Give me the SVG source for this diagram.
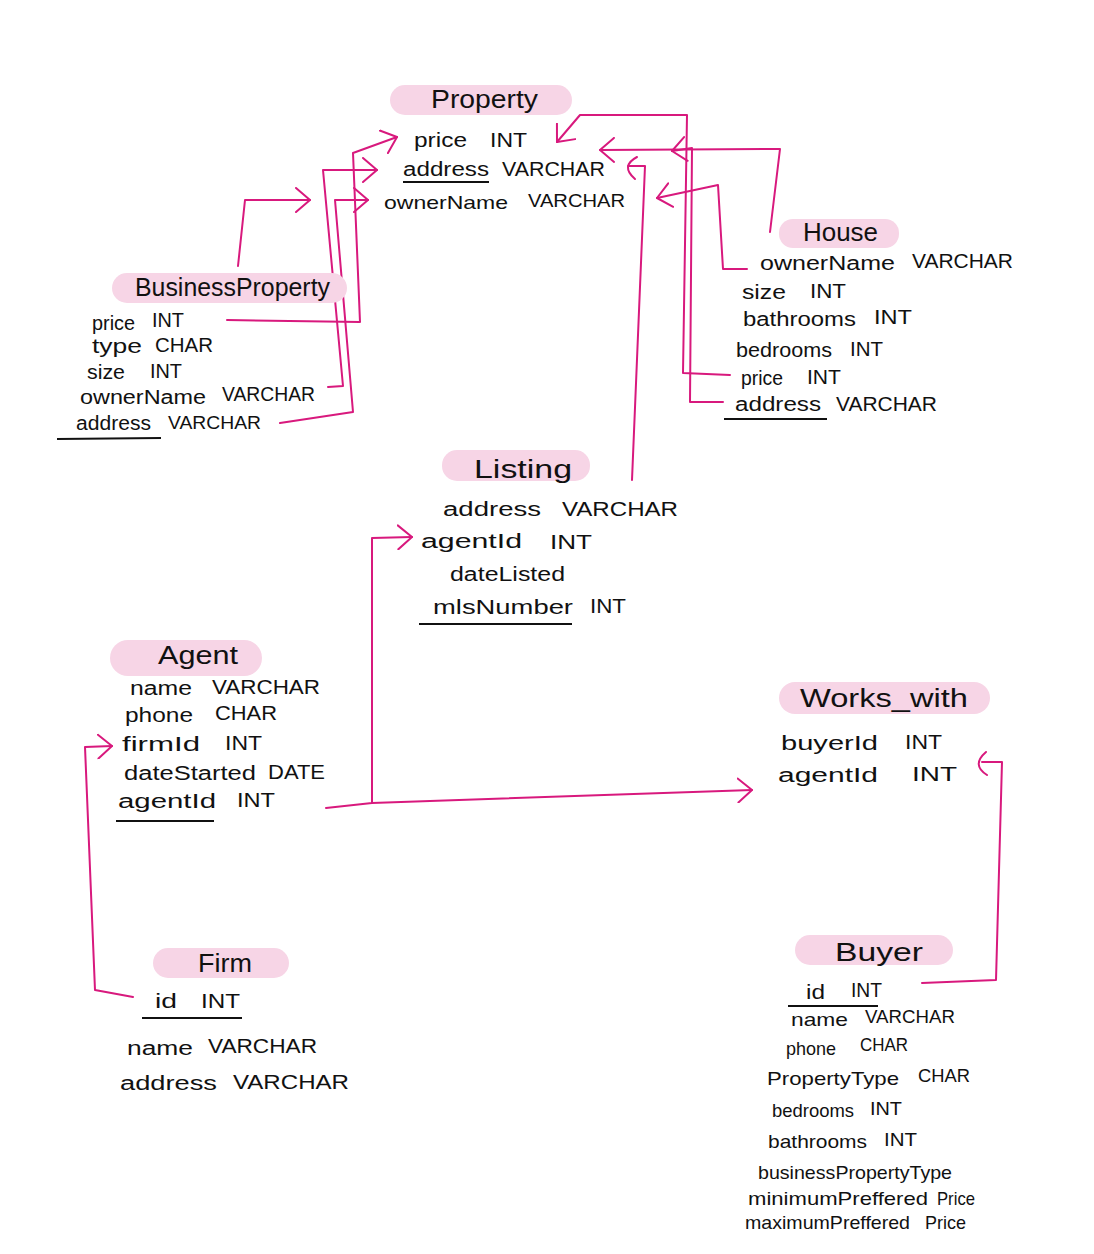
<svg xmlns="http://www.w3.org/2000/svg" width="1094" height="1254" viewBox="0 0 1094 1254">
<style>
.t{font-family:"Liberation Sans","Open Sans",Arial,sans-serif;font-size:20px;fill:#111}
.s{font-size:18.5px}
.h{font-size:25px}
.pill{fill:#f7d5e6}
.u{stroke:#111;stroke-width:2.2;fill:none}
.c{stroke:#d8197d;stroke-width:2;fill:none;stroke-linejoin:round;stroke-linecap:round}
</style>
<defs>
<marker id="ar" viewBox="0 0 16 26" refX="15" refY="13" markerWidth="16" markerHeight="26" markerUnits="userSpaceOnUse" orient="auto">
<path d="M1,1 L15,13 L1,25" fill="none" stroke="#d8197d" stroke-width="2" stroke-linecap="round" stroke-linejoin="round"/>
</marker>
</defs>
<rect width="1094" height="1254" fill="#fff"/>

<g id="connectors">
<path class="c" d="M238,266 L245,200 L310,200" marker-end="url(#ar)"/>
<path class="c" d="M227,320 L360,322 L353,153 L397,137" marker-end="url(#ar)"/>
<path class="c" d="M328,387 L343,386 L323,170 L377,170" marker-end="url(#ar)"/>
<path class="c" d="M280,423 L353,412 L335,200 L368,200" marker-end="url(#ar)"/>
<path class="c" d="M770,232 L780,149 L600,150" marker-end="url(#ar)"/>
<path class="c" d="M730,375 L683,373 L687,115 L580,115 L557,142" marker-end="url(#ar)"/>
<path class="c" d="M723,402 L690,402 L692,148 L672,151" marker-end="url(#ar)"/>
<path class="c" d="M747,269 L723,269 L718,185 L657,198" marker-end="url(#ar)"/>
<path class="c" d="M632,480 L645,166 L628,166"/>
<path class="c" d="M637,157 Q620,166 635,179"/>
<path class="c" d="M133,997 L95,990 L85,747 L112,746" marker-end="url(#ar)"/>
<path class="c" d="M326,808 L372,803 L372,538 L412,537" marker-end="url(#ar)"/>
<path class="c" d="M372,803 L752,790" marker-end="url(#ar)"/>
<path class="c" d="M922,983 L996,980 L1002,762 L982,762"/>
<path class="c" d="M986,752 Q971,765 987,775"/>
</g>

<g id="property">
<rect class="pill" x="390" y="85" width="182" height="30" rx="15"/>
<text class="t h" x="431" y="108" textLength="107" lengthAdjust="spacingAndGlyphs">Property</text>
<text class="t" x="414" y="147" textLength="53" lengthAdjust="spacingAndGlyphs">price</text>
<text class="t" x="490" y="147" textLength="37" lengthAdjust="spacingAndGlyphs">INT</text>
<text class="t" x="403" y="176" textLength="86" lengthAdjust="spacingAndGlyphs">address</text>
<text class="t" x="502" y="176" textLength="103" lengthAdjust="spacingAndGlyphs">VARCHAR</text>
<line class="u" x1="403" y1="182" x2="489" y2="182"/>
<text class="t s" x="384" y="209" textLength="124" lengthAdjust="spacingAndGlyphs">ownerName</text>
<text class="t s" x="528" y="207" textLength="97" lengthAdjust="spacingAndGlyphs">VARCHAR</text>
</g>

<g id="house">
<rect class="pill" x="779" y="219" width="120" height="29" rx="14"/>
<text class="t h" x="803" y="241" textLength="75" lengthAdjust="spacingAndGlyphs">House</text>
<text class="t" x="760" y="270" textLength="135" lengthAdjust="spacingAndGlyphs">ownerName</text>
<text class="t" x="912" y="268" textLength="101" lengthAdjust="spacingAndGlyphs">VARCHAR</text>
<text class="t" x="742" y="299" textLength="44" lengthAdjust="spacingAndGlyphs">size</text>
<text class="t" x="810" y="298" textLength="36" lengthAdjust="spacingAndGlyphs">INT</text>
<text class="t" x="743" y="326" textLength="113" lengthAdjust="spacingAndGlyphs">bathrooms</text>
<text class="t" x="874" y="324" textLength="38" lengthAdjust="spacingAndGlyphs">INT</text>
<text class="t" x="736" y="357" textLength="96" lengthAdjust="spacingAndGlyphs">bedrooms</text>
<text class="t" x="850" y="356" textLength="33" lengthAdjust="spacingAndGlyphs">INT</text>
<text class="t" x="741" y="385" textLength="42" lengthAdjust="spacingAndGlyphs">price</text>
<text class="t" x="807" y="384" textLength="34" lengthAdjust="spacingAndGlyphs">INT</text>
<text class="t" x="735" y="411" textLength="86" lengthAdjust="spacingAndGlyphs">address</text>
<text class="t" x="836" y="411" textLength="101" lengthAdjust="spacingAndGlyphs">VARCHAR</text>
<line class="u" x1="724" y1="419" x2="827" y2="419"/>
</g>

<g id="business-property">
<rect class="pill" x="112" y="273" width="235" height="30" rx="15"/>
<text class="t h" x="135" y="296" textLength="195" lengthAdjust="spacingAndGlyphs">BusinessProperty</text>
<text class="t" x="92" y="330" textLength="43" lengthAdjust="spacingAndGlyphs">price</text>
<text class="t" x="152" y="327" textLength="32" lengthAdjust="spacingAndGlyphs">INT</text>
<text class="t" x="92" y="353" textLength="50" lengthAdjust="spacingAndGlyphs">type</text>
<text class="t" x="155" y="352" textLength="58" lengthAdjust="spacingAndGlyphs">CHAR</text>
<text class="t" x="87" y="379" textLength="38" lengthAdjust="spacingAndGlyphs">size</text>
<text class="t" x="150" y="378" textLength="32" lengthAdjust="spacingAndGlyphs">INT</text>
<text class="t" x="80" y="404" textLength="126" lengthAdjust="spacingAndGlyphs">ownerName</text>
<text class="t" x="222" y="401" textLength="93" lengthAdjust="spacingAndGlyphs">VARCHAR</text>
<text class="t" x="76" y="430" textLength="75" lengthAdjust="spacingAndGlyphs">address</text>
<text class="t s" x="168" y="429" textLength="93" lengthAdjust="spacingAndGlyphs">VARCHAR</text>
<line class="u" x1="57" y1="439" x2="161" y2="438"/>
</g>

<g id="listing">
<rect class="pill" x="442" y="450" width="148" height="31" rx="15"/>
<text class="t h" x="474" y="478" textLength="98" lengthAdjust="spacingAndGlyphs">Listing</text>
<text class="t" x="443" y="516" textLength="98" lengthAdjust="spacingAndGlyphs">address</text>
<text class="t" x="562" y="516" textLength="116" lengthAdjust="spacingAndGlyphs">VARCHAR</text>
<text class="t" x="421" y="548" textLength="101" lengthAdjust="spacingAndGlyphs">agentId</text>
<text class="t" x="550" y="549" textLength="42" lengthAdjust="spacingAndGlyphs">INT</text>
<text class="t" x="450" y="581" textLength="115" lengthAdjust="spacingAndGlyphs">dateListed</text>
<text class="t" x="433" y="614" textLength="140" lengthAdjust="spacingAndGlyphs">mlsNumber</text>
<text class="t" x="590" y="613" textLength="36" lengthAdjust="spacingAndGlyphs">INT</text>
<line class="u" x1="419" y1="624" x2="572" y2="624"/>
</g>

<g id="agent">
<rect class="pill" x="110" y="640" width="152" height="36" rx="18"/>
<text class="t h" x="158" y="664" textLength="80" lengthAdjust="spacingAndGlyphs">Agent</text>
<text class="t" x="130" y="695" textLength="62" lengthAdjust="spacingAndGlyphs">name</text>
<text class="t" x="212" y="694" textLength="108" lengthAdjust="spacingAndGlyphs">VARCHAR</text>
<text class="t" x="125" y="722" textLength="68" lengthAdjust="spacingAndGlyphs">phone</text>
<text class="t" x="215" y="720" textLength="62" lengthAdjust="spacingAndGlyphs">CHAR</text>
<text class="t" x="122" y="751" textLength="78" lengthAdjust="spacingAndGlyphs">firmId</text>
<text class="t" x="225" y="750" textLength="37" lengthAdjust="spacingAndGlyphs">INT</text>
<text class="t" x="124" y="780" textLength="132" lengthAdjust="spacingAndGlyphs">dateStarted</text>
<text class="t" x="268" y="779" textLength="57" lengthAdjust="spacingAndGlyphs">DATE</text>
<text class="t" x="118" y="808" textLength="98" lengthAdjust="spacingAndGlyphs">agentId</text>
<text class="t" x="237" y="807" textLength="38" lengthAdjust="spacingAndGlyphs">INT</text>
<line class="u" x1="116" y1="821" x2="214" y2="821"/>
</g>

<g id="works-with">
<rect class="pill" x="779" y="682" width="211" height="32" rx="16"/>
<text class="t h" x="800" y="707" textLength="168" lengthAdjust="spacingAndGlyphs">Works_with</text>
<text class="t" x="781" y="750" textLength="97" lengthAdjust="spacingAndGlyphs">buyerId</text>
<text class="t" x="905" y="749" textLength="37" lengthAdjust="spacingAndGlyphs">INT</text>
<text class="t" x="778" y="782" textLength="100" lengthAdjust="spacingAndGlyphs">agentId</text>
<text class="t" x="912" y="781" textLength="45" lengthAdjust="spacingAndGlyphs">INT</text>
</g>

<g id="firm">
<rect class="pill" x="153" y="948" width="136" height="30" rx="15"/>
<text class="t h" x="198" y="972" textLength="54" lengthAdjust="spacingAndGlyphs">Firm</text>
<text class="t" x="155" y="1008" textLength="22" lengthAdjust="spacingAndGlyphs">id</text>
<text class="t" x="201" y="1008" textLength="39" lengthAdjust="spacingAndGlyphs">INT</text>
<line class="u" x1="142" y1="1018" x2="242" y2="1018"/>
<text class="t" x="127" y="1055" textLength="66" lengthAdjust="spacingAndGlyphs">name</text>
<text class="t" x="208" y="1053" textLength="109" lengthAdjust="spacingAndGlyphs">VARCHAR</text>
<text class="t" x="120" y="1090" textLength="97" lengthAdjust="spacingAndGlyphs">address</text>
<text class="t" x="233" y="1089" textLength="116" lengthAdjust="spacingAndGlyphs">VARCHAR</text>
</g>

<g id="buyer">
<rect class="pill" x="795" y="935" width="158" height="30" rx="15"/>
<text class="t h" x="835" y="961" textLength="88" lengthAdjust="spacingAndGlyphs">Buyer</text>
<text class="t" x="806" y="999" textLength="19" lengthAdjust="spacingAndGlyphs">id</text>
<text class="t" x="851" y="997" textLength="31" lengthAdjust="spacingAndGlyphs">INT</text>
<line class="u" x1="788" y1="1006" x2="878" y2="1006"/>
<text class="t s" x="791" y="1026" textLength="57" lengthAdjust="spacingAndGlyphs">name</text>
<text class="t s" x="865" y="1023" textLength="90" lengthAdjust="spacingAndGlyphs">VARCHAR</text>
<text class="t s" x="786" y="1055" textLength="50" lengthAdjust="spacingAndGlyphs">phone</text>
<text class="t s" x="860" y="1051" textLength="48" lengthAdjust="spacingAndGlyphs">CHAR</text>
<text class="t s" x="767" y="1085" textLength="132" lengthAdjust="spacingAndGlyphs">PropertyType</text>
<text class="t s" x="918" y="1082" textLength="52" lengthAdjust="spacingAndGlyphs">CHAR</text>
<text class="t s" x="772" y="1117" textLength="82" lengthAdjust="spacingAndGlyphs">bedrooms</text>
<text class="t s" x="870" y="1115" textLength="32" lengthAdjust="spacingAndGlyphs">INT</text>
<text class="t s" x="768" y="1148" textLength="99" lengthAdjust="spacingAndGlyphs">bathrooms</text>
<text class="t s" x="884" y="1146" textLength="33" lengthAdjust="spacingAndGlyphs">INT</text>
<text class="t s" x="758" y="1179" textLength="194" lengthAdjust="spacingAndGlyphs">businessPropertyType</text>
<text class="t s" x="748" y="1205" textLength="180" lengthAdjust="spacingAndGlyphs">minimumPreffered</text>
<text class="t s" x="937" y="1205" textLength="38" lengthAdjust="spacingAndGlyphs">Price</text>
<text class="t s" x="745" y="1229" textLength="165" lengthAdjust="spacingAndGlyphs">maximumPreffered</text>
<text class="t s" x="925" y="1229" textLength="41" lengthAdjust="spacingAndGlyphs">Price</text>
</g>
</svg>
